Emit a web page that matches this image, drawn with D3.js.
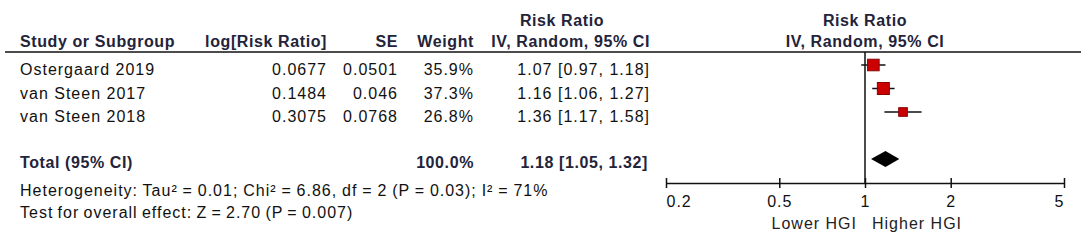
<!DOCTYPE html>
<html>
<head>
<meta charset="utf-8">
<script src="https://cdn.jsdelivr.net/npm/d3@7"></script>
<style>
  html, body { margin: 0; padding: 0; background: #fff; }
  svg text { font-family: "Liberation Sans", Arial, sans-serif; font-size: 16px; }
</style>
</head>
<body>
<svg id="chart" width="1084" height="247"></svg>
<script>
// ---- data ----
const studies  = ["Ostergaard 2019", "van Steen 2017", "van Steen 2018"];
const logRR    = ["0.0677", "0.1484", "0.3075"];
const seVals   = ["0.0501", "0.046", "0.0768"];
const weights  = [35.9, 37.3, 26.8];
const rr       = [1.07, 1.16, 1.36];
const ciLow    = [0.97, 1.06, 1.17];
const ciHigh   = [1.18, 1.27, 1.58];
const totalLabel = "Total (95% CI)";
const totalWeight = 100.0;
const totalRR  = [1.18, 1.05, 1.32];   // estimate, low, high
const heterogeneity = "Heterogeneity: Tau\u00B2 = 0.01; Chi\u00B2 = 6.86, df = 2 (P = 0.03); I\u00B2 = 71%";
const overallEffect = "Test for overall effect: Z = 2.70 (P = 0.007)";
const tickValues = [0.2, 0.5, 1, 2, 5];
const tickLabels = ["0.2", "0.5", "1", "2", "5"];
const favourLeft = "Lower HGI";
const favourRight = "Higher HGI";

// ---- layout ----
const svg = d3.select("#chart");
const headColor = "#23233a";
const LS = "1px";   // letter spacing for regular text
const LSB = "0.6px";

const x = d3.scaleLog().domain([0.2, 5]).range([666, 1064]);
const y = d3.scalePoint().domain(studies).range([65, 112]);
const side = d3.scaleLinear().domain([0, 37.3]).range([0, 12]);

const colStudy = 20, colLog = 327, colSE = 398, colW = 474, colCI = 650;
const textOff = 10;
const fmtCI = (e, l, h) => `${e.toFixed(2)} [${l.toFixed(2)}, ${h.toFixed(2)}]`;

function txt(xp, yp, s, anchor, bold, color) {
  return svg.append("text").attr("x", xp).attr("y", yp).text(s)
    .attr("text-anchor", anchor || "start")
    .attr("font-weight", bold ? "bold" : "normal")
    .attr("fill", color || "#111")
    .style("letter-spacing", bold ? LSB : LS);
}

// headers
txt(562, 26, "Risk Ratio", "middle", true, headColor);
txt(865, 26, "Risk Ratio", "middle", true, headColor);
txt(colStudy, 47, "Study or Subgroup", "start", true, headColor);
txt(colLog, 47, "log[Risk Ratio]", "end", true, headColor);
txt(colSE, 47, "SE", "end", true, headColor);
txt(colW, 47, "Weight", "end", true, headColor);
txt(colCI, 47, "IV, Random, 95% CI", "end", true, headColor);
txt(865, 47, "IV, Random, 95% CI", "middle", true, headColor);

svg.append("line").attr("x1", 5).attr("x2", 1081).attr("y1", 52).attr("y2", 52)
  .attr("stroke", "#111").attr("stroke-width", 1.5);

// rows
studies.forEach((s, i) => {
  const yy = y(s) + textOff;
  txt(colStudy, yy, s);
  txt(colLog, yy, logRR[i], "end");
  txt(colSE, yy, seVals[i], "end");
  txt(colW, yy, weights[i].toFixed(1) + "%", "end");
  txt(colCI, yy, fmtCI(rr[i], ciLow[i], ciHigh[i]), "end");
});

// total
const totY = 159;
txt(colStudy, totY + 9, totalLabel, "start", true, headColor);
txt(colW, totY + 9, totalWeight.toFixed(1) + "%", "end", true, headColor);
txt(colCI - 2, totY + 9, fmtCI(totalRR[0], totalRR[1], totalRR[2]), "end", true, headColor);
txt(colStudy, 196, heterogeneity).style("word-spacing", "-0.6px");
txt(colStudy, 218, overallEffect).style("word-spacing", "-1.2px");

// null line
svg.append("line").attr("x1", x(1)).attr("x2", x(1)).attr("y1", 52).attr("y2", 183)
  .attr("stroke", "#111").attr("stroke-width", 1.5);

// CIs and squares
const g = svg.append("g");
studies.forEach((s, i) => {
  g.append("line").attr("x1", x(ciLow[i])).attr("x2", x(ciHigh[i]))
    .attr("y1", y(s)).attr("y2", y(s)).attr("stroke", "#111").attr("stroke-width", 1.5);
  const w = side(weights[i]);
  g.append("rect").attr("x", x(rr[i]) - w / 2).attr("y", y(s) - w / 2)
    .attr("width", w).attr("height", w)
    .attr("fill", "#cc0000").attr("stroke", "#8a0000").attr("stroke-width", 1);
});

// diamond
const dh = 8;
svg.append("path")
  .attr("d", `M${x(totalRR[1])},${totY} L${x(totalRR[0])},${totY - dh} L${x(totalRR[2])},${totY} L${x(totalRR[0])},${totY + dh} Z`)
  .attr("fill", "#000");

// axis
const axis = d3.axisBottom(x).tickValues(tickValues).tickFormat((d, i) => tickLabels[i])
  .tickSize(5).tickSizeOuter(0).tickPadding(8);
const ax = svg.append("g").attr("transform", "translate(0,183)").call(axis);
ax.select(".domain").attr("stroke", "#111").attr("stroke-width", 1.5);
ax.selectAll(".tick line").attr("y1", -5).attr("y2", 5).attr("stroke", "#111").attr("stroke-width", 1.5);
ax.selectAll(".tick text").attr("fill", "#111")
  .style("font-size", "16px").style("font-family", "'Liberation Sans', Arial, sans-serif")
  .style("letter-spacing", LS)
  .attr("text-anchor", (d, i) => i === 0 ? "start" : (i === tickValues.length - 1 ? "end" : "middle"));

txt(x(1) - 8, 229, favourLeft, "end", false, "#222");
txt(x(1) + 7, 229, favourRight, "start", false, "#222");
</script>
</body>
</html>
